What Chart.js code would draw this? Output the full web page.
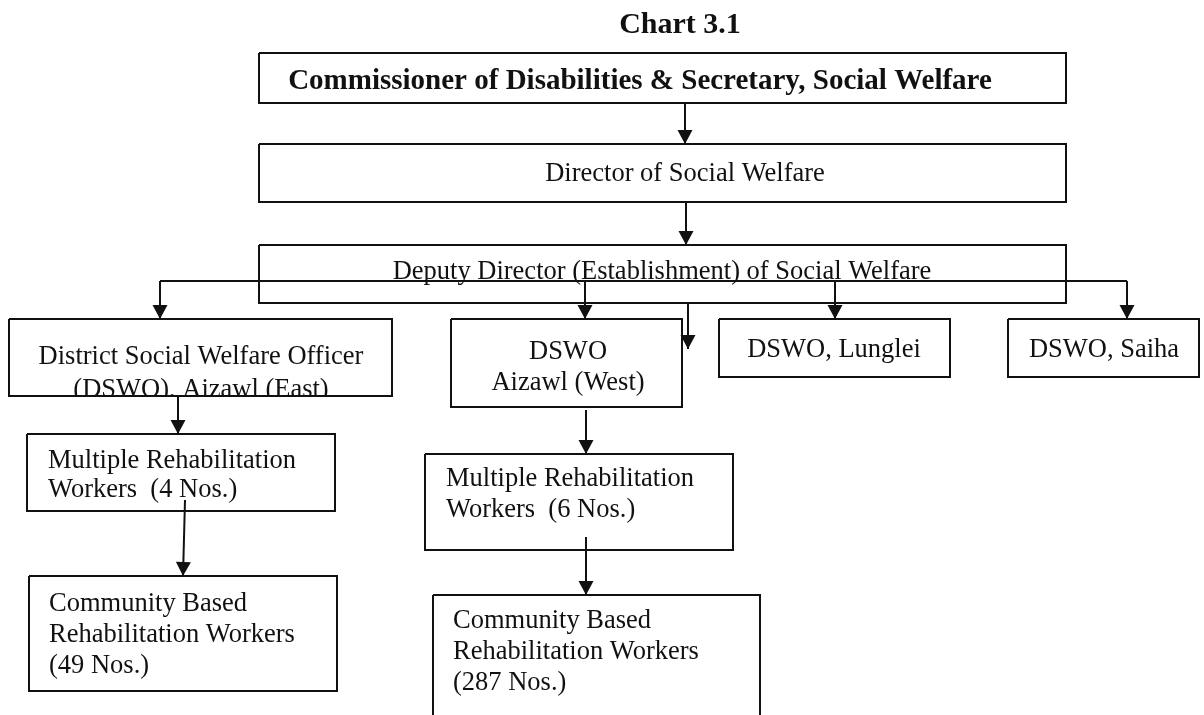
<!DOCTYPE html>
<html>
<head>
<meta charset="utf-8">
<script src="https://cdn.jsdelivr.net/npm/chart.js@4/dist/chart.umd.min.js"></script>
<style>
  html, body { margin: 0; padding: 0; background: #fff; }
  canvas { display: block; }
</style>
</head>
<body>
<canvas id="org" width="1204" height="715"></canvas>
<script>
// org chart boxes (page units, y grows downward)
const boxLeft   = [259, 259, 259, 9, 451, 719, 1008, 27, 425, 29, 433];
const boxTop    = [53, 144, 245, 319, 319, 319, 319, 434, 454, 576, 595];
const boxRight  = [1066, 1066, 1066, 392, 682, 950, 1199, 335, 733, 337, 760];
const boxBottom = [103, 202, 303, 396, 407, 377, 377, 511, 550, 691, 730];
const boxText = [
    ['Commissioner of Disabilities & Secretary, Social Welfare'],
    ['Director of Social Welfare'],
    ['Deputy Director (Establishment) of Social Welfare'],
    ['District Social Welfare Officer', '(DSWO), Aizawl (East)'],
    ['DSWO', 'Aizawl (West)'],
    ['DSWO, Lunglei'],
    ['DSWO, Saiha'],
    ['Multiple Rehabilitation', 'Workers  (4 Nos.)'],
    ['Multiple Rehabilitation', 'Workers  (6 Nos.)'],
    ['Community Based', 'Rehabilitation Workers', '(49 Nos.)'],
    ['Community Based', 'Rehabilitation Workers', '(287 Nos.)']
];

// connector bus and arrows
const busX = [160, 1127];
const busY = 281;
const arrowFrom = [[685, 103], [686, 202], [688, 303], [160, 281], [585, 281], [835, 281], [1127, 281],
                   [178, 396], [185, 500], [586, 410], [586, 537]];
const arrowTo   = [[685, 144], [686, 245], [688, 349], [160, 319], [585, 319], [835, 319], [1127, 319],
                   [178, 434], [183, 576], [586, 454], [586, 595]];

const chartTitle = 'Chart 3.1';

// text placement
const layout = {
    titleX: 680, titleBase: 33,
    labelX: [640, 685, 662, 201, 568, 834, 1104, 48, 446, 49, 453],
    labelAlign: ['center', 'center', 'center', 'center', 'center', 'center', 'center', 'left', 'left', 'left', 'left'],
    labelBase: [[89], [181], [279], [364, 397], [359, 390], [357], [357], [468, 497], [486, 517], [611, 642, 673], [628, 659, 690]]
};

const ink = '#111';
const serif = '"Liberation Serif", "Times New Roman", serif';
const datasets = [];

boxLeft.forEach((l, i) => {
    const r = boxRight[i], t = boxTop[i], b = boxBottom[i];
    datasets.push({
        data: [{x: l, y: t}, {x: r, y: t}, {x: r, y: b}, {x: l, y: b}, {x: l, y: t}],
        showLine: true, borderColor: ink, borderWidth: 2, pointRadius: 0,
        borderJoinStyle: 'miter', fill: false
    });
});

datasets.push({
    data: busX.map(x => ({x: x, y: busY})),
    showLine: true, borderColor: ink, borderWidth: 2, pointRadius: 0
});

arrowFrom.forEach((p, i) => {
    datasets.push({
        data: [{x: p[0], y: p[1]}, {x: arrowTo[i][0], y: arrowTo[i][1]}],
        showLine: true, borderColor: ink, borderWidth: 2, pointRadius: 0
    });
});

const orgText = {
    id: 'orgText',
    afterDatasetsDraw(chart) {
        const ctx = chart.ctx;
        const xs = chart.scales.x, ys = chart.scales.y;
        ctx.save();
        ctx.fillStyle = ink;

        // arrow heads
        arrowFrom.forEach((p, i) => {
            const x1 = xs.getPixelForValue(p[0]), y1 = ys.getPixelForValue(p[1]);
            const x2 = xs.getPixelForValue(arrowTo[i][0]), y2 = ys.getPixelForValue(arrowTo[i][1]);
            const a = Math.atan2(y2 - y1, x2 - x1);
            const len = 14, half = 7.5;
            ctx.beginPath();
            ctx.moveTo(x2, y2);
            ctx.lineTo(x2 - len * Math.cos(a) + half * Math.sin(a), y2 - len * Math.sin(a) - half * Math.cos(a));
            ctx.lineTo(x2 - len * Math.cos(a) - half * Math.sin(a), y2 - len * Math.sin(a) + half * Math.cos(a));
            ctx.closePath();
            ctx.fill();
        });

        // title
        ctx.font = 'bold 30px ' + serif;
        ctx.textAlign = 'center';
        ctx.textBaseline = 'alphabetic';
        ctx.fillText(chartTitle, xs.getPixelForValue(layout.titleX), ys.getPixelForValue(layout.titleBase));

        // box labels, clipped to the box
        boxText.forEach((lines, i) => {
            const l = xs.getPixelForValue(boxLeft[i]), r = xs.getPixelForValue(boxRight[i]);
            const t = ys.getPixelForValue(boxTop[i]), b = ys.getPixelForValue(boxBottom[i]);
            ctx.save();
            ctx.beginPath();
            ctx.rect(l, t, r - l, b - t);
            ctx.clip();
            ctx.font = (i === 0 ? 'bold 29px ' : '26.5px ') + serif;
            ctx.textAlign = layout.labelAlign[i];
            lines.forEach((s, j) => {
                ctx.fillText(s, xs.getPixelForValue(layout.labelX[i]), ys.getPixelForValue(layout.labelBase[i][j]));
            });
            ctx.restore();
        });
        ctx.restore();
    }
};

new Chart(document.getElementById('org'), {
    type: 'scatter',
    data: { datasets: datasets },
    options: {
        responsive: false,
        animation: false,
        layout: { padding: 0 },
        plugins: { legend: { display: false }, tooltip: { enabled: false } },
        scales: {
            x: { type: 'linear', min: 0, max: 1204, display: false },
            y: { type: 'linear', min: 0, max: 715, reverse: true, display: false }
        }
    },
    plugins: [orgText]
});
</script>
</body>
</html>
